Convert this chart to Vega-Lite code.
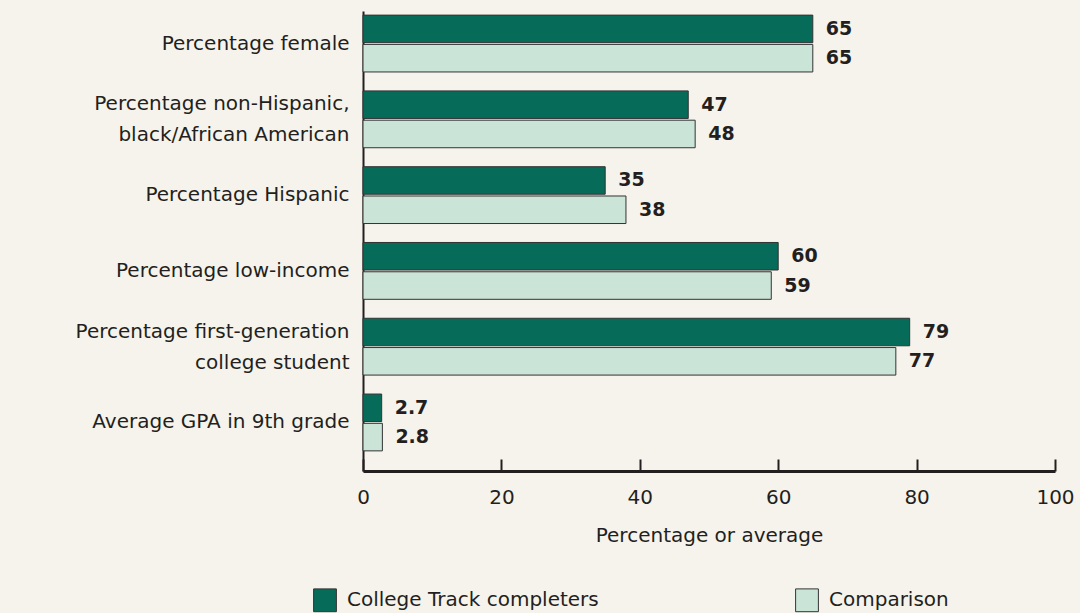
{
  "$schema": "https://vega.github.io/schema/vega-lite/v6.json",
  "width": 692,
  "height": 460,
  "autosize": {"type": "none"},
  "padding": {"left": 363, "top": 11, "right": 25, "bottom": 142},
  "background": "#f6f3ec",
  "config": {
    "view": {"stroke": null},
    "font": "DejaVu Sans",
    "text": {"font": "DejaVu Sans"}
  },
  "data": {
    "values": [
      {"item": "Percentage female", "group": "College Track completers", "value": 65, "label": "65"},
      {"item": "Percentage female", "group": "Comparison", "value": 65, "label": "65"},
      {"item": "Percentage non-Hispanic,|black/African American", "group": "College Track completers", "value": 47, "label": "47"},
      {"item": "Percentage non-Hispanic,|black/African American", "group": "Comparison", "value": 48, "label": "48"},
      {"item": "Percentage Hispanic", "group": "College Track completers", "value": 35, "label": "35"},
      {"item": "Percentage Hispanic", "group": "Comparison", "value": 38, "label": "38"},
      {"item": "Percentage low-income", "group": "College Track completers", "value": 60, "label": "60"},
      {"item": "Percentage low-income", "group": "Comparison", "value": 59, "label": "59"},
      {"item": "Percentage first-generation|college student", "group": "College Track completers", "value": 79, "label": "79"},
      {"item": "Percentage first-generation|college student", "group": "Comparison", "value": 77, "label": "77"},
      {"item": "Average GPA in 9th grade", "group": "College Track completers", "value": 2.7, "label": "2.7"},
      {"item": "Average GPA in 9th grade", "group": "Comparison", "value": 2.8, "label": "2.8"}
    ]
  },
  "encoding": {
    "y": {
      "field": "item", "type": "nominal", "sort": null,
      "scale": {"paddingInner": 0.25, "paddingOuter": 0.16, "align": 0.17},
      "axis": {
        "title": null, "ticks": false, "labelExpr": "split(datum.label, '|')",
        "labelFontSize": 20, "labelColor": "#231f20", "labelPadding": 14, "labelLineHeight": 31,
        "labelLimit": 400,
        "labelOffset": {"condition": {"test": "indexof(datum.value, '|') >= 0", "value": -15}, "value": 0},
        "domainColor": "#231f20", "domainWidth": 2
      }
    },
    "yOffset": {"field": "group", "type": "nominal", "scale": {"paddingInner": 0.06}},
    "x": {
      "field": "value", "type": "quantitative",
      "scale": {"domain": [0, 100], "nice": false},
      "axis": {
        "title": "Percentage or average", "titleFontSize": 20, "titleFontWeight": "normal",
        "titleColor": "#231f20", "titlePadding": 18,
        "values": [0, 20, 40, 60, 80, 100], "grid": false, "labelFlush": false,
        "labelFontSize": 20, "labelColor": "#231f20", "labelPadding": 28,
        "tickSize": -12, "tickWidth": 2, "tickColor": "#231f20",
        "domainColor": "#231f20", "domainWidth": 3
      }
    }
  },
  "layer": [
    {
      "mark": {"type": "bar", "stroke": "#333333", "strokeWidth": 1},
      "encoding": {
        "color": {
          "field": "group", "type": "nominal",
          "scale": {"domain": ["College Track completers", "Comparison"], "range": ["#076b5a", "#cbe4d8"]},
          "legend": {
            "title": null, "orient": "none", "direction": "horizontal",
            "legendX": -50, "legendY": 577,
            "symbolType": "square", "symbolSize": 520, "symbolStrokeColor": "#333333", "symbolStrokeWidth": 1,
            "labelFontSize": 20, "labelColor": "#231f20", "labelOffset": 10,
            "columnPadding": 194, "labelLimit": 400
          }
        }
      }
    },
    {
      "mark": {"type": "text", "align": "left", "baseline": "middle", "dx": 13, "fontSize": 19, "fontWeight": "bold", "color": "#231f20"},
      "encoding": {"text": {"field": "label"}}
    }
  ]
}
